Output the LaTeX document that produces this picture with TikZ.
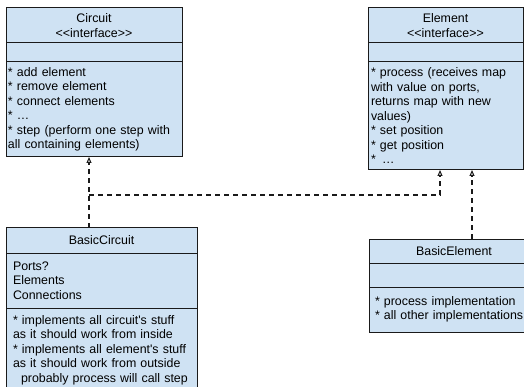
\documentclass[tikz,border=0pt]{standalone}
\usepackage{fontspec}
\usepackage{tikz}
\usetikzlibrary{arrows.meta,positioning}
\newfontfamily\umlfont{Liberation Sans}
\definecolor{umlblue}{RGB}{207,226,243}
\definecolor{umlline}{RGB}{26,26,26}

\begin{document}
\begin{tikzpicture}[x=1pt,y=-1pt,part/.style={draw=umlline,fill=umlblue,line width=1pt,outer sep=0pt,inner ysep=0pt,inner xsep=4pt,font=\umlfont\fontsize{12.4}{14.5}\selectfont},head/.style={part,align=center},body/.style={part,align=left},real/.style={draw=umlline,line width=1.2pt,dash pattern=on 5pt off 4pt,-{Triangle[open,fill=white,length=6pt,width=5pt,line width=1pt]}}]
\useasboundingbox (0,0) rectangle (524,387);

% interfaces
\node[head,anchor=north west,minimum width=176pt,text width=168pt,minimum height=35pt] (circTitle) at (6,8) {Circuit\\<<interface>>};
\node[part,below=0pt of circTitle,minimum width=176pt,minimum height=19pt] (circAttr) {};
\node[body,below=0pt of circAttr,minimum width=176pt,text width=172pt,inner xsep=2pt,minimum height=95pt] (circBody) {* add element\\{}* remove element\\{}* connect elements\\{}* …\\{}* step (perform one step with\\all containing elements)};

\node[head,anchor=north west,minimum width=155pt,text width=147pt,minimum height=35pt] (elTitle) at (368,8) {Element\\<<interface>>};
\node[part,below=0pt of elTitle,minimum width=155pt,minimum height=19pt] (elAttr) {};
\node[body,below=0pt of elAttr,minimum width=155pt,text width=149pt,inner xsep=3pt,minimum height=108pt] (elBody) {* process (receives map\\with value on ports,\\returns map with new\\values)\\{}* set position\\{}* get position\\{}* \,…};

% implementations
\node[head,anchor=north west,minimum width=191pt,text width=183pt,minimum height=25pt] (bcTitle) at (6,228) {BasicCircuit};
\node[body,below=0pt of bcTitle,minimum width=191pt,text width=177pt,inner xsep=7pt,minimum height=55pt] (bcAttr) {Ports?\\Elements\\Connections};
\node[body,below=0pt of bcAttr,minimum width=191pt,text width=177pt,inner xsep=7pt,minimum height=84pt] (bcBody) {* implements all circuit's stuff\\as it should work from inside\\{}* implements all element's stuff\\as it should work from outside\\\hspace*{8pt}probably process will call step};

\node[head,anchor=north west,minimum width=170pt,text width=162pt,minimum height=24pt] (beTitle) at (369,239) {BasicElement};
\node[part,below=0pt of beTitle,minimum width=170pt,minimum height=24pt] (beAttr) {};
\node[body,below=0pt of beAttr,minimum width=170pt,text width=158pt,inner xsep=6pt,minimum height=45pt] (beBody) {* process implementation\\{}* all other implementations};

% realisation links
\coordinate (bcTip) at ([xshift=83pt]bcTitle.north west);
\coordinate (beTip) at ([xshift=103pt]beTitle.north west);
\coordinate (junc) at (89,195);
\coordinate (elFoot) at ([xshift=72pt]elBody.south west);
\draw[real] (bcTip) -- (bcTip |- circBody.south);
\draw[real] (junc) -| (elFoot);
\draw[real] (beTip) -- (beTip |- elBody.south);
\end{tikzpicture}
\end{document}
